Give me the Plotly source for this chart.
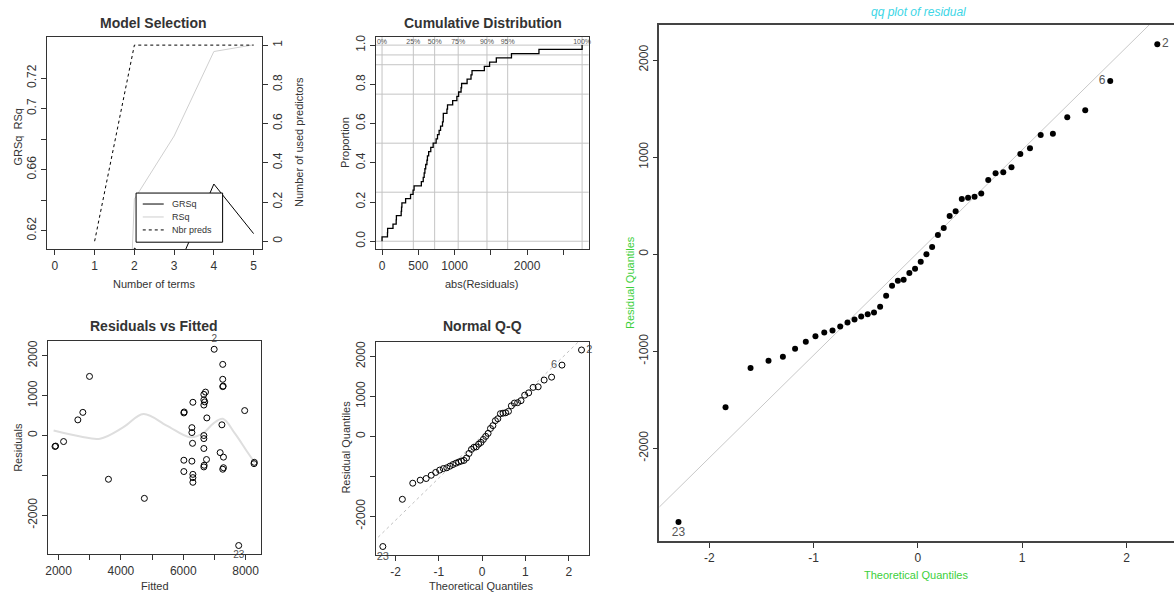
import numpy as np
import plotly.graph_objects as go
from statistics import NormalDist

W, H = 1174, 596

# ---------------- data ----------------
n_terms = [1, 2, 3, 4, 5]
grsq = [0.0, 0.6085, 0.59, 0.6505, 0.618]
rsq = [0.0, 0.6406, 0.682, 0.7374, 0.7418]
nbr_preds = [0, 1, 1, 1, 1]
legend_names = ["GRSq", "RSq", "Nbr preds"]

# residuals (sorted ascending) and the matching fitted values
residuals = [-2759, -1576, -1173, -1097, -1056, -974, -903, -845, -807, -787,
             -746, -705, -672, -643, -619, -602, -542, -428, -325, -274,
             -264, -195, -151, -77, 0, 75, 198, 269, 393, 442,
             568, 581, 591, 626, 765, 834, 844, 895, 1032, 1090,
             1227, 1241, 1411, 1483, 1785, 2164]
fitted = [7779, 4752, 6309, 3600, 6309, 6309, 6019, 7267, 7290, 6661,
          6670, 8272, 8280, 6277, 6019, 6746, 7290, 7184, 6661, 1885,
          1905, 6298, 2160, 6661, 6661, 6277, 6277, 7240, 2618, 6757,
          6019, 2778, 6030, 7971, 6661, 6309, 6690, 6661, 6661, 6714,
          7267, 7280, 7267, 2992, 7267, 6992]
obs_labels = ["23"] + [""] * 43 + ["6", "2"]

smooth_fitted = [1840, 2700, 3330, 4080, 4720, 5470, 6210, 6640, 6960, 7270, 7650, 8030, 8300]
smooth_resid = [125, -25, -80, 210, 540, 250, -40, 60, 300, 420, 60, -380, -690]

quantile_probs = [0, 0.25, 0.5, 0.75, 0.9, 0.95, 1.0]
quantile_names = ["0%", "25%", "50%", "75%", "90%", "95%", "100%"]

# ---------------- derived ----------------
n = len(residuals)
nd = NormalDist()
theo = [nd.inv_cdf((i + 0.5) / n) for i in range(n)]
q1, q3 = np.quantile(residuals, [0.25, 0.75])
z1, z3 = nd.inv_cdf(0.25), nd.inv_cdf(0.75)
qq_slope = (q3 - q1) / (z3 - z1)
qq_int = q1 - qq_slope * z1
qq_x = [-3.0, 3.0]
qq_y = [qq_int + qq_slope * v for v in qq_x]

abs_res = sorted(abs(r) for r in residuals)
ecdf_x = [0] + abs_res
ecdf_y = [0] + [(i + 1) / n for i in range(n)]
abs_q = list(np.quantile(abs_res, quantile_probs))

FONT = "Liberation Sans, Arial, sans-serif"
DARK = "#333333"
LGREY = "#cfcfcf"


def px(x):
    return x / W


def py(y):
    return 1 - y / H


fig = go.Figure()

# ---- Panel 1: Model Selection ----
styles = [dict(color="black", width=1), dict(color=LGREY, width=1),
          dict(color="black", width=1, dash="dot")]
fig.add_trace(go.Scatter(x=n_terms, y=grsq, mode="lines", name=legend_names[0],
                         line=styles[0], xaxis="x", yaxis="y", showlegend=False))
fig.add_trace(go.Scatter(x=n_terms, y=rsq, mode="lines", name=legend_names[1],
                         line=styles[1], xaxis="x", yaxis="y", showlegend=False))
fig.add_trace(go.Scatter(x=n_terms, y=nbr_preds, mode="lines", name=legend_names[2],
                         line=styles[2], xaxis="x", yaxis="y2", showlegend=False))

# ---- Panel 2: Cumulative Distribution ----
fig.add_trace(go.Scatter(x=ecdf_x, y=ecdf_y, mode="lines", line_shape="hv",
                         line=dict(color="black", width=1.3), showlegend=False,
                         xaxis="x2", yaxis="y3"))
fig.add_trace(go.Scatter(x=abs_q, y=[1.013] * len(abs_q), mode="text", text=quantile_names,
                         textfont=dict(size=7, color="#555555", family=FONT),
                         showlegend=False, xaxis="x2", yaxis="y3", cliponaxis=False))

# ---- Panel 3: Residuals vs Fitted ----
fig.add_trace(go.Scatter(x=smooth_fitted, y=smooth_resid, mode="lines", line_shape="spline",
                         line=dict(color="#dedede", width=2), showlegend=False,
                         xaxis="x3", yaxis="y4"))
p3_text = [t if t in ("2", "23") else "" for t in obs_labels]
p3_pos = ["bottom center" if t == "23" else "top center" for t in obs_labels]
fig.add_trace(go.Scatter(x=fitted, y=residuals, mode="markers+text", text=p3_text,
                         textposition=p3_pos, textfont=dict(size=10, color="#555555", family=FONT),
                         marker=dict(symbol="circle-open", size=6, color="black", line=dict(width=1)),
                         showlegend=False, cliponaxis=False, xaxis="x3", yaxis="y4"))

# ---- Panel 4: Normal Q-Q ----
fig.add_trace(go.Scatter(x=qq_x, y=qq_y, mode="lines", line=dict(color="#c0c0c0", width=1, dash="dot"),
                         showlegend=False, xaxis="x4", yaxis="y5"))
pos_map = {"2": "middle right", "6": "middle left", "23": "bottom center", "": "middle center"}
fig.add_trace(go.Scatter(x=theo, y=residuals, mode="markers+text", text=obs_labels,
                         textposition=[pos_map[t] for t in obs_labels],
                         textfont=dict(size=11, color="#555555", family=FONT),
                         marker=dict(symbol="circle-open", size=6, color="black", line=dict(width=1)),
                         showlegend=False, cliponaxis=False, xaxis="x4", yaxis="y5"))

# ---- Big panel: qq plot of residual ----
fig.add_trace(go.Scatter(x=qq_x, y=qq_y, mode="lines", line=dict(color="#c8c8c8", width=1),
                         showlegend=False, xaxis="x5", yaxis="y6"))
fig.add_trace(go.Scatter(x=theo, y=residuals, mode="markers+text", text=obs_labels,
                         textposition=[pos_map[t] for t in obs_labels],
                         textfont=dict(size=12, color="#555555", family=FONT),
                         marker=dict(symbol="circle", size=6, color="black"),
                         showlegend=False, cliponaxis=False, xaxis="x5", yaxis="y6"))


def axis(domain, rng, tickvals, ticktext, anchor, mirror=True, size=12, lw=1, angle=None, **kw):
    d = dict(domain=domain, range=rng, tickmode="array", tickvals=tickvals, ticktext=ticktext,
             showline=True, linecolor=DARK, linewidth=lw, mirror=mirror, ticks="outside",
             ticklen=5, tickwidth=1, tickcolor=DARK, showgrid=False, zeroline=False,
             anchor=anchor, tickfont=dict(size=size, color=DARK, family=FONT), fixedrange=True)
    if angle is not None:
        d["tickangle"] = angle
    d.update(kw)
    return d


P1x = [px(45), px(260)]
P1y = [py(248.3), py(35)]
P2x = [px(374.3), px(587.7)]
P3x = [px(45.7), px(259.3)]
P3y = [py(554), py(340)]
P4x = [px(374.3), px(588.3)]
P4y = [py(555), py(340.7)]
BGx = [px(658.6), 1.0]
BGy = [py(540.7), py(22.7)]

res_ticks = [-2000, -1000, 0, 1000, 2000]

fig.update_layout(
    width=W, height=H, margin=dict(l=0, r=0, t=0, b=0),
    paper_bgcolor="white", plot_bgcolor="white",
    font=dict(family=FONT, color=DARK),
    showlegend=False,
    xaxis=axis(P1x, [-0.2, 5.2], [0, 1, 2, 3, 4, 5], ["0", "1", "2", "3", "4", "5"], "y"),
    yaxis=axis(P1y, [0.6076, 0.747], [0.62, 0.64, 0.66, 0.68, 0.70, 0.72],
               ["0.62", "", "0.66", "", "0.7", "0.72"], "x", angle=-90),
    yaxis2=axis(P1y, [-0.042, 1.042], [0, 0.2, 0.4, 0.6, 0.8, 1.0],
                ["0", "0.2", "0.4", "0.6", "0.8", "1"], "x", mirror=False, angle=-90,
                overlaying="y", side="right"),
    xaxis2=axis(P2x, [-88, 2850], [0, 500, 1000, 1500, 2000, 2500],
                ["0", "500", "1000", "", "2000", ""], "y3"),
    yaxis3=axis(P1y, [-0.042, 1.042], [0, 0.2, 0.4, 0.6, 0.8, 1.0],
                ["0.0", "0.2", "0.4", "0.6", "0.8", "1.0"], "x2", angle=-90),
    xaxis3=axis(P3x, [1648, 8490], [2000, 3000, 4000, 5000, 6000, 7000, 8000],
                ["2000", "", "4000", "", "6000", "", "8000"], "y4"),
    yaxis4=axis(P3y, [-2975, 2375], res_ticks, ["-2000", "", "0", "1000", "2000"], "x3", angle=-90),
    xaxis4=axis(P4x, [-2.461, 2.475], [-2, -1, 0, 1, 2], ["-2", "-1", "0", "1", "2"], "y5"),
    yaxis5=axis(P4y, [-2975, 2375], res_ticks, ["-2000", "", "0", "1000", "2000"], "x4", angle=-90),
    xaxis5=axis(BGx, [-2.477, 2.455], [-2, -1, 0, 1, 2], ["-2", "-1", "0", "1", "2"], "y6",
                lw=1.5, linecolor="#444444"),
    yaxis6=axis(BGy, [-2954, 2365], res_ticks, ["-2000", "-1000", "0", "1000", "2000"], "x5",
                mirror=False, angle=-90, lw=1.5, linecolor="#444444"),
)

shapes = []
# grid lines in the cumulative distribution panel
for q in abs_q:
    shapes.append(dict(type="line", xref="x2", yref="y3 domain", x0=q, x1=q, y0=0, y1=1,
                       line=dict(color="#c4c4c4", width=1), layer="below"))
for p in quantile_probs:
    shapes.append(dict(type="line", xref="x2 domain", yref="y3", x0=0, x1=1, y0=p, y1=p,
                       line=dict(color="#c4c4c4", width=1), layer="below"))

# legend box of the Model Selection panel (R style)
LEG = dict(x0=134.3, x1=221, y0=191.7, y1=241)
shapes.append(dict(type="rect", xref="paper", yref="paper", x0=px(LEG["x0"]), x1=px(LEG["x1"]),
                   y0=py(LEG["y1"]), y1=py(LEG["y0"]), fillcolor="white",
                   line=dict(color="black", width=1), layer="above"))
for k, st in enumerate(styles):
    yy = LEG["y0"] + 11 + k * 13
    shapes.append(dict(type="line", xref="paper", yref="paper", x0=px(141), x1=px(162),
                       y0=py(yy), y1=py(yy), line=st, layer="above"))
fig.update_layout(shapes=shapes)


def ann(text, x, y, size=11, angle=0, color=DARK, bold=False, italic=False, xanchor="center"):
    t = text
    if bold:
        t = "<b>" + t + "</b>"
    if italic:
        t = "<i>" + t + "</i>"
    fig.add_annotation(text=t, x=px(x), y=py(y), xref="paper", yref="paper",
                       xanchor=xanchor, yanchor="middle", showarrow=False, textangle=angle,
                       font=dict(size=size, color=color, family=FONT))


for k, name in enumerate(legend_names):
    ann(name, 168, LEG["y0"] + 11 + k * 13, size=9, xanchor="left")

# titles
ann("Model Selection", 152, 21, size=14, bold=True)
ann("Cumulative Distribution", 481.7, 21, size=14, bold=True)
ann("Residuals vs Fitted", 152, 325, size=14, bold=True)
ann("Normal Q-Q", 481, 325, size=14, bold=True)
ann("qq plot of residual", 918.4, 10, size=12, color="#3dd6e6", italic=True)

# axis titles
ann("Number of terms", 152, 283, size=11)
ann("GRSq  RSq", 16, 135, size=11, angle=-90)
ann("Number of used predictors", 297, 140, size=11, angle=-90)
ann("abs(Residuals)", 480, 283, size=11)
ann("Proportion", 343, 141, size=11, angle=-90)
ann("Fitted", 153, 586, size=11)
ann("Residuals", 16.7, 446.7, size=11, angle=-90)
ann("Theoretical Quantiles", 480, 586, size=11)
ann("Residual Quantiles", 345, 446.7, size=11, angle=-90)
ann("Theoretical Quantiles", 915.8, 575, size=11, color="#3ccf3c")
ann("Residual Quantiles", 629, 281, size=11, angle=-90, color="#3ccf3c")

fig.write_html("out.html", post_script="document.body.style.margin='0px';",
               config={"displayModeBar": False})
